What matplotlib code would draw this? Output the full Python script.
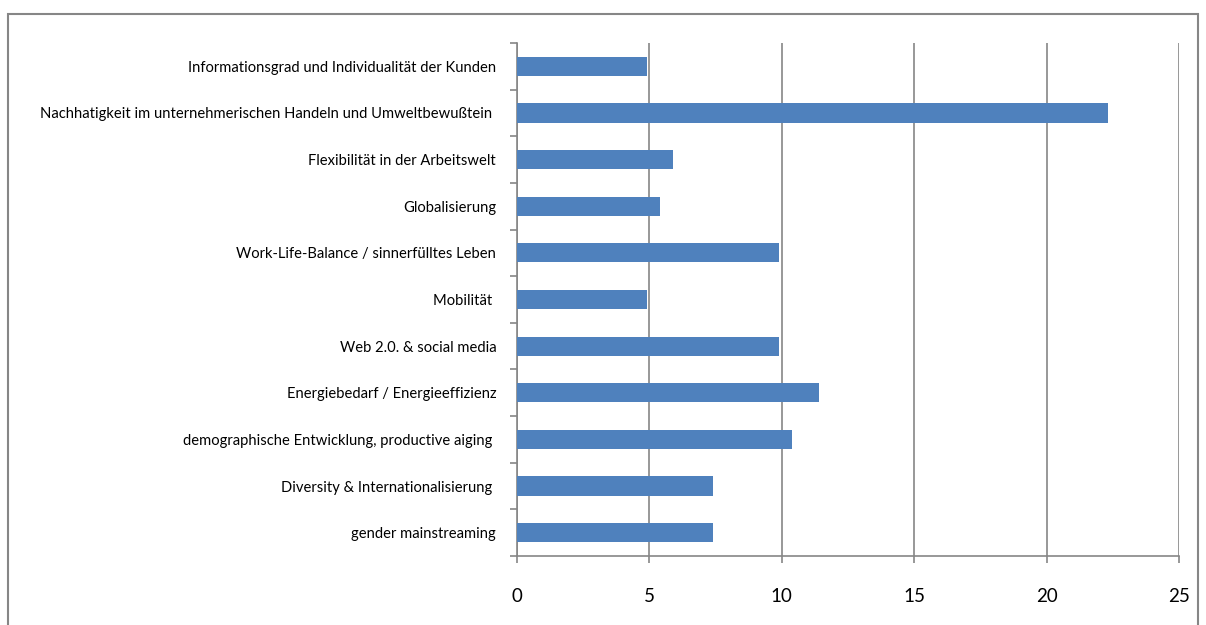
import matplotlib.pyplot as plt
from matplotlib.patches import Rectangle

categories = [
    "Informationsgrad und Individualität der Kunden",
    "Nachhatigkeit im unternehmerischen Handeln und Umweltbewußtein ",
    "Flexibilität in der Arbeitswelt",
    "Globalisierung",
    "Work-Life-Balance / sinnerfülltes Leben",
    "Mobilität ",
    "Web 2.0. & social media",
    "Energiebedarf / Energieeffizienz",
    "demographische Entwicklung, productive aiging ",
    "Diversity & Internationalisierung ",
    "gender mainstreaming",
]
values = [4.9, 22.3, 5.9, 5.4, 9.9, 4.9, 9.9, 11.4, 10.4, 7.4, 7.4]
x_ticks = [0, 5, 10, 15, 20, 25]

plt.rcParams['font.family'] = ['Lato', 'DejaVu Sans']

W, H = 1206, 625
fig = plt.figure(figsize=(W / 100, H / 100), dpi=100)

# outer chart frame
fig.patches.append(Rectangle((8 / W, -0.01), (1198 - 8) / W, 1 - 14 / H + 0.01,
                             transform=fig.transFigure, fill=False,
                             edgecolor='#868686', linewidth=1.5))

left, right, top, bottom = 517, 1179, 43, 556
ax = fig.add_axes([left / W, 1 - bottom / H, (right - left) / W, (bottom - top) / H])

n = len(categories)
ypos = list(range(n - 1, -1, -1))
ax.barh(ypos, values, height=0.41, color='#4F81BD', zorder=3)

ax.set_xlim(0, 25)
ax.set_ylim(-0.5, n - 0.5)
ax.set_xticks(x_ticks)
ax.set_xticklabels([str(t) for t in x_ticks], fontsize=13.5)
ax.tick_params(axis='x', direction='out', length=5, width=1.2, color='#868686', pad=18)

ax.set_yticks([p for p in ypos])
ax.set_yticklabels(categories, fontsize=10.6)
ax.tick_params(axis='y', length=0, pad=15)
ax.set_yticks([i - 0.5 for i in range(n + 1)], minor=True)
ax.tick_params(axis='y', which='minor', direction='out', length=5, width=1.2, color='#868686')

ax.grid(axis='x', color='#868686', linewidth=1.2, zorder=0)
for s in ['top', 'right']:
    ax.spines[s].set_visible(False)
for s in ['left', 'bottom']:
    ax.spines[s].set_color('#868686')
    ax.spines[s].set_linewidth(1.2)

fig.savefig('out.png', dpi=100)
